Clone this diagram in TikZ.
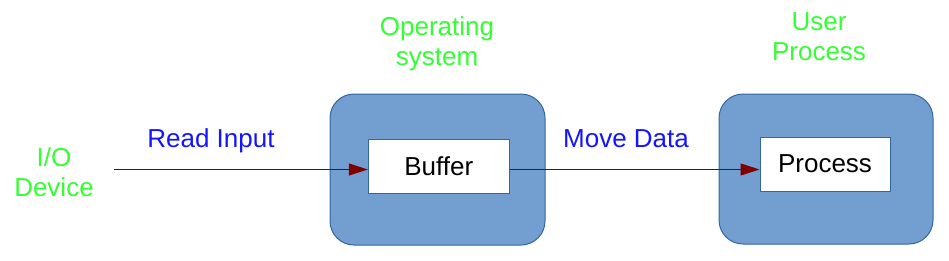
\documentclass[tikz,border=0pt]{standalone}
\usepackage{fontspec}
\setmainfont{Liberation Sans}
\usetikzlibrary{arrows.meta}
\definecolor{lblgreen}{RGB}{51,255,51}
\definecolor{lblblue}{RGB}{20,20,255}
\definecolor{boxfill}{RGB}{114,159,207}
\definecolor{boxline}{RGB}{52,101,164}
\definecolor{arrowred}{RGB}{128,0,0}
\tikzset{
  outerbox/.style={draw=boxline, fill=boxfill, line width=1pt, rounded corners=24pt},
  innerbox/.style={draw=boxline, fill=white, line width=1pt, inner sep=0pt, font=\fontsize{26}{30}\selectfont},
  greenlbl/.style={text=lblgreen, align=center, font=\fontsize{26}{29.5}\selectfont, inner sep=0pt},
  bluelbl/.style={text=lblblue, font=\fontsize{26}{30}\selectfont, inner sep=0pt, anchor=base},
  conn/.style={draw=arrowred, line width=1pt, -{Triangle[length=19pt,width=12pt]}}
}
\begin{document}
\begin{tikzpicture}[x=1pt,y=-1pt]
\useasboundingbox (0,0) rectangle (949,260);
\draw[outerbox] (330,94) rectangle (545,245);
\draw[outerbox] (719,94) rectangle (933,244);
\node[innerbox, minimum width=141pt, minimum height=54pt] (buffer) at (438.8,166) {Buffer};
\node[innerbox, minimum width=130pt, minimum height=54pt] (process) at (825,164) {Process};
\node[greenlbl, anchor=base] (io) at (54,196) {I/O\\Device};
\node[greenlbl, anchor=base] (os) at (437,65) {Operating\\system};
\node[greenlbl, anchor=base] (up) at (819,60) {User\\Process};
\node[bluelbl] (read) at (211,147) {Read Input};
\node[bluelbl] (move) at (626,147) {Move Data};
\coordinate (src) at (114,169.5);
\coordinate (mid) at (509,169.5);
\draw[conn] (src) -- (src -| buffer.west);
\draw[conn] (buffer.east |- mid) -- (process.west |- mid);
\end{tikzpicture}
\end{document}
